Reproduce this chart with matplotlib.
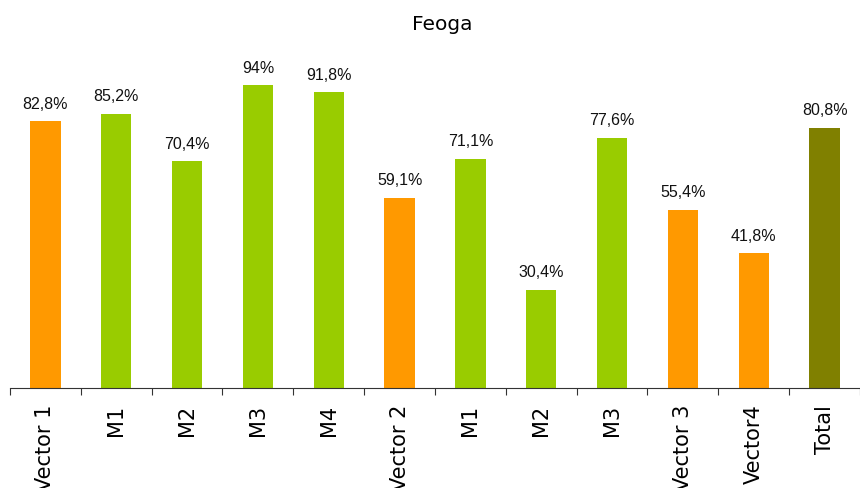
import matplotlib.pyplot as plt
import numpy as np

categories = ['Vector 1', 'M1', 'M2', 'M3', 'M4', 'Vector 2', 'M1', 'M2', 'M3',
              'Vector 3', 'Vector4', 'Total']
values = [82.8, 85.2, 70.4, 94, 91.8, 59.1, 71.1, 30.4, 77.6, 55.4, 41.8, 80.8]
labels = ['82,8%', '85,2%', '70,4%', '94%', '91,8%', '59,1%', '71,1%', '30,4%',
          '77,6%', '55,4%', '41,8%', '80,8%']
kinds = ['v', 'm', 'm', 'm', 'm', 'v', 'm', 'm', 'm', 'v', 'v', 't']

palette = {'v': '#FF9900', 'm': '#99CC00', 't': '#808000'}
colors = [palette[k] for k in kinds]

fig = plt.figure(figsize=(8.6, 4.88), dpi=100)
ax = fig.add_axes([10 / 860, 100 / 488, 850 / 860, 322 / 488])

x = np.arange(len(values))
ax.bar(x, values, width=0.43, color=colors)

for xi, v, lab in zip(x, values, labels):
    ax.annotate(lab, (xi, v), xytext=(0, 7), textcoords='offset points',
                ha='center', va='bottom', fontsize=11.5, family='Liberation Sans',
                color='#111111')

ax.set_xlim(-0.5, len(values) - 0.5)
ax.set_ylim(0, 100)
ax.set_xticks(x)
ax.set_xticklabels(categories, rotation=90, fontsize=15, va='top')
ax.tick_params(axis='x', which='major', length=0, pad=12)
ax.set_xticks(np.arange(-0.5, len(values), 1), minor=True)
ax.tick_params(axis='x', which='minor', length=5, width=0.8, color='#333333')
ax.set_yticks([])
for side in ['left', 'right', 'top']:
    ax.spines[side].set_visible(False)
ax.spines['bottom'].set_color('#333333')
ax.spines['bottom'].set_linewidth(0.8)

fig.text(442 / 860, 1 - 25 / 488, 'Feoga', ha='center', va='center', fontsize=14.5)

fig.savefig('out.png', dpi=100)
